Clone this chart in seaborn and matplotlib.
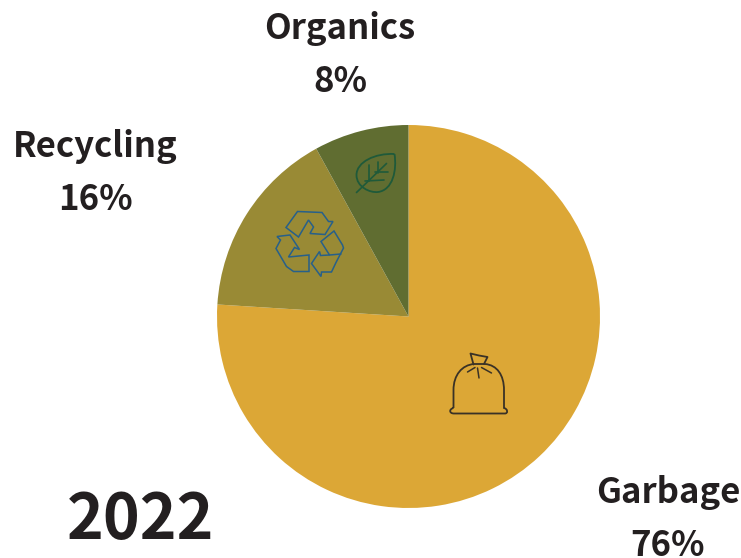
import numpy as np
import matplotlib.pyplot as plt
import seaborn as sns
from matplotlib.patches import Polygon, PathPatch
from matplotlib.path import Path

categories = ["Garbage", "Recycling", "Organics"]
shares = [76, 16, 8]
colors = ["#dca736", "#998a35", "#606d31"]
year = "2022"

TEXT = "#231f20"
W, H = 741, 558

sns.set_theme(style="white")
plt.rcParams["font.family"] = ["Noto Sans CJK JP", "DejaVu Sans"]

fig = plt.figure(figsize=(W / 100, H / 100), dpi=100)

# pie axes placed by pixel position
cx, cy, r = 408.5, 316.5, 191.5
ax = fig.add_axes([(cx - r) / W, 1 - (cy + r) / H, 2 * r / W, 2 * r / H])
ax.pie(shares, colors=colors, startangle=90, counterclock=False, radius=1,
       wedgeprops={"linewidth": 0})
ax.set_xlim(-1, 1)
ax.set_ylim(-1, 1)
ax.set_aspect("equal")

# overlay in pixel coords for icons and labels
ov = fig.add_axes([0, 0, 1, 1])
ov.set_xlim(0, W)
ov.set_ylim(H, 0)
ov.axis("off")


def smooth(p0, *segs):
    """Path from p0 through cubic segments (c1, c2, end) or straight points."""
    verts, codes = [p0], [Path.MOVETO]
    for s in segs:
        if len(s) == 3:
            verts += list(s)
            codes += [Path.CURVE4] * 3
        else:
            verts.append(s)
            codes.append(Path.LINETO)
    return Path(verts, codes)


# garbage bag
bag_col = "#3a3226"
bag = smooth(
    (453.5, 408),
    (453.5, 390),
    ((453.5, 375), (462, 365), (474, 364)),
    (485, 364),
    ((497, 365), (504, 375), (504, 390)),
    (504, 408),
    ((508, 409), (508, 413.5), (505, 413.5)),
    (454, 413.5),
    ((449, 413.5), (449, 409), (453.5, 408)),
)
ov.add_patch(PathPatch(bag, fill=False, ec=bag_col, lw=1.3))
ov.plot([473.5, 470.5, 479, 487.5, 484], [364.5, 353.5, 355.5, 357, 364], color=bag_col, lw=1.3)
ov.plot([467.5, 475], [372, 367.5], color=bag_col, lw=1.1)
ov.plot([491.5, 481.5], [373, 367.5], color=bag_col, lw=1.1)
ov.plot([477.5, 479], [368, 378], color=bag_col, lw=1.1)

# recycling arrows, outlines
rec_col = "#27608a"
rec_top = [(297.5, 211.5), (322, 212.5), (328.5, 221.5), (333, 221.5), (325, 234.5),
           (310, 233.5), (313.5, 227), (308.5, 220), (298.5, 237), (286, 227.5), (297.5, 211.5)]
rec_right = [(334, 231), (342.5, 245), (343.5, 248), (336, 262.5), (331.5, 272), (321.5, 272),
             (321, 276.5), (311.5, 263.5), (319.5, 251.5), (320.5, 255.5), (329.5, 255), (321, 241.5),
             (334, 231)]
rec_left = [(277, 236.5), (290, 235), (299.5, 249.5), (294.5, 247.5), (288.5, 257), (309, 255),
            (309, 271.5), (293.5, 271.5), (286.5, 266.5), (276, 248.5), (280.5, 240), (277, 236.5)]
for pts in (rec_top, rec_right, rec_left):
    ov.add_patch(Polygon(pts, closed=True, fill=False, ec=rec_col, lw=1.1))
ov.plot([329.5, 341], [255, 254], color=rec_col, lw=1.1)

# leaf
leaf_col = "#1f5a3a"
leaf = smooth(
    (394.5, 154),
    ((375, 153), (356.5, 162), (356.5, 175)),
    ((356.5, 187), (370, 193), (378, 192)),
    ((393, 190), (397, 170), (394.5, 154)),
)
ov.add_patch(PathPatch(leaf, fill=False, ec=leaf_col, lw=1.3))
ov.plot([356.5, 386.5], [192.5, 163.5], color=leaf_col, lw=1.2)
ov.plot([368.5, 368.5], [165, 181], color=leaf_col, lw=1.2)
ov.plot([377.5, 377.5], [162, 172.5], color=leaf_col, lw=1.2)
ov.plot([365, 384], [181, 180], color=leaf_col, lw=1.2)
ov.plot([375, 387.5], [171.5, 171.5], color=leaf_col, lw=1.2)

# labels
label_pos = {"Garbage": (668, 493, 546), "Recycling": (95.5, 146, 200), "Organics": (340, 28, 82)}
for name, val in zip(categories, shares):
    x, y1, y2 = label_pos[name]
    ov.text(x, y1, name, ha="center", va="center", fontsize=25, fontweight="bold", color=TEXT)
    ov.text(x, y2, f"{val}%", ha="center", va="center", fontsize=25, fontweight="bold", color=TEXT)

ov.text(141, 520, year, ha="center", va="center", fontsize=45, fontweight="bold", color=TEXT)

fig.savefig("out.png", dpi=100, facecolor="white")
